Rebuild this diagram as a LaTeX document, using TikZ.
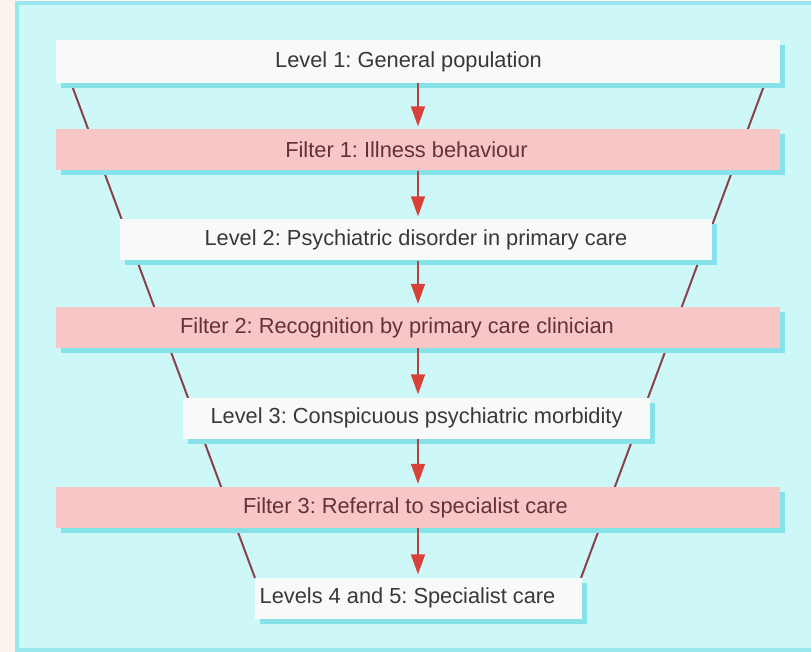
\documentclass[tikz,border=0pt]{standalone}
\usepackage{fontspec}
\setmainfont{Liberation Sans}
\usetikzlibrary{arrows.meta,shadows}

\definecolor{creambg}{HTML}{FBF4EE}
\definecolor{panelfill}{HTML}{CEF7F7}
\definecolor{panelline}{HTML}{96E8EC}
\definecolor{shadecyan}{HTML}{84E2E8}
\definecolor{boxwhite}{HTML}{F8FAFA}
\definecolor{boxpink}{HTML}{F7C6C6}
\definecolor{leveltext}{HTML}{383838}
\definecolor{filtertext}{HTML}{643236}
\definecolor{arrowred}{HTML}{D8413A}
\definecolor{shaftred}{HTML}{B0443E}
\definecolor{funnelred}{HTML}{8C3F4E}

\tikzset{
	box/.style={inner sep=0pt, minimum height=41pt,
		font=\fontsize{21.8}{25}\selectfont,
		general shadow={fill=shadecyan, shadow xshift=5pt, shadow yshift=-5pt}},
	levelbox/.style={box, fill=boxwhite, text=leveltext},
	filterbox/.style={box, fill=boxpink, text=filtertext, minimum width=724pt},
	lshift/.style={execute at end node={\hspace*{#1}}},
	flow/.style={draw=shaftred, line width=1.6pt, shorten >=3pt,
		-{Triangle[length=20pt,width=14pt,color=arrowred]}},
	funnel/.style={draw=funnelred, line width=2pt}
}

\begin{document}
\frenchspacing
\begin{tikzpicture}[x=1pt,y=-1pt]
	\useasboundingbox (0,0) rectangle (811,652);
	\fill[creambg] (0,0) rectangle (811,652);
	\draw[panelline, fill=panelfill, line width=4pt] (17,3) rectangle (820,650);
	% funnel sides, behind the boxes
	\coordinate (ftl) at (71,83);
	\coordinate (fbl) at (255,578);
	\coordinate (ftr) at (765,83);
	\coordinate (fbr) at (581,578);
	\draw[funnel] (ftl)--(fbl);
	\draw[funnel] (ftr)--(fbr);
	% levels and filters
	\node[levelbox, minimum width=724pt, minimum height=43pt, lshift=19pt] (l1) at (418,61.5) {Level 1: General population};
	\node[filterbox, lshift=23pt] (f1) at (418,150) {Filter 1: Illness behaviour};
	\node[levelbox, minimum width=592pt] (l2) at (416,240) {Level 2: Psychiatric disorder in primary care};
	\node[filterbox, lshift=42pt] (f2) at (418,327.5) {Filter 2: Recognition by primary care clinician};
	\node[levelbox, minimum width=467pt] (l3) at (416.5,418) {Level 3: Conspicuous psychiatric morbidity};
	\node[filterbox, lshift=25pt] (f3) at (418,507.5) {Filter 3: Referral to specialist care};
	\node[levelbox, minimum width=327pt, lshift=22pt] (l4) at (418.5,598) {Levels 4 and 5: Specialist care};
	% arrows
	\draw[flow] (l1.south)--(l1.south |- f1.north);
	\draw[flow] (f1.south)--(f1.south |- l2.north);
	\draw[flow] (f1.south |- l2.south)--(f1.south |- f2.north);
	\draw[flow] (f2.south)--(f2.south |- l3.north);
	\draw[flow] (f2.south |- l3.south)--(f2.south |- f3.north);
	\draw[flow] (f3.south)--(f3.south |- l4.north);
\end{tikzpicture}
\end{document}
